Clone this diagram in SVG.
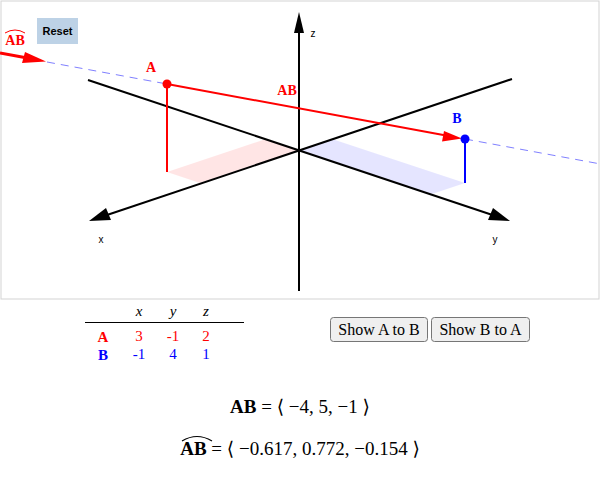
<svg xmlns="http://www.w3.org/2000/svg" width="600" height="481" viewBox="0 0 600 481">
<style>
.ser{font-family:"Liberation Serif","DejaVu Serif",serif}
.lbl{font-family:"Liberation Serif",serif;font-weight:bold;font-size:14px;text-anchor:middle}
.ax{stroke:#000;stroke-width:2;fill:none}
.axl{font-family:"Liberation Sans",Arial,sans-serif;font-size:10px;fill:#000;text-anchor:middle}
.btn{fill:#efefef;stroke:#767676;stroke-width:1}
.btt{font-family:"Liberation Serif",serif;font-size:16px;text-anchor:middle;fill:#000}
.tb{font-family:"Liberation Serif",serif;font-size:15px;text-anchor:middle}
.eq{font-family:"Liberation Serif","DejaVu Serif",serif;font-size:19px;text-anchor:middle;fill:#000}
</style>
<rect x="1" y="1" width="598" height="298" fill="#fff" stroke="#d3d3d3" stroke-width="1"/>
<g id="planes">
<polygon points="299,150 266,139 167,172 200,183" fill="#ff0000" fill-opacity="0.1"/>
<polygon points="299,150 332,139 465,183 432,194" fill="#0000ff" fill-opacity="0.1"/>
</g>
<g id="connectors">
<line class="ax" x1="299" y1="291" x2="299" y2="30"/>
<polygon points="299,12 294,33 304,33" fill="#000"/>
<line class="ax" x1="512" y1="79" x2="104" y2="216"/>
<polygon points="89,221 106,208 111,220" fill="#000"/>
<line class="ax" x1="88" y1="80" x2="494" y2="215.5"/>
<polygon points="510,221 493,208 488,220" fill="#000"/>
<line x1="47" y1="62" x2="167" y2="84" stroke="#8080ff" stroke-width="1" stroke-dasharray="8,6"/>
<line x1="465" y1="139" x2="599" y2="163.7" stroke="#8080ff" stroke-width="1" stroke-dasharray="8,6"/>
<line x1="167" y1="84" x2="167" y2="172" stroke="#ff0000" stroke-width="2"/>
<line x1="465" y1="139" x2="465" y2="183" stroke="#0000ff" stroke-width="2"/>
<line x1="167" y1="84" x2="446" y2="135.5" stroke="#ff0000" stroke-width="2"/>
<polygon points="462,138.5 444,131 442,141.5" fill="#ff0000"/>
<line x1="0" y1="53" x2="26" y2="57.8" stroke="#ff0000" stroke-width="3"/>
<polygon points="46,61.6 25,52 22,63" fill="#ff0000"/>
</g>
<g id="pointA"><circle cx="167" cy="84" r="4.5" fill="#ff0000"/><text class="lbl" x="151" y="72" fill="#ff0000">A</text></g>
<g id="pointB"><circle cx="465" cy="139" r="4.5" fill="#0000ff"/><text class="lbl" x="457" y="123" fill="#0000ff">B</text></g>
<g id="labelAB"><text class="lbl" x="287" y="95" fill="#ff0000">AB</text></g>
<g id="labelUnit"><text class="lbl" x="15" y="45" fill="#ff0000">AB</text><path d="M5,33 Q15,27 25,33" fill="none" stroke="#ff0000" stroke-width="1"/></g>
<g id="axisLabels"><text class="axl" x="101" y="243">x</text><text class="axl" x="495" y="243">y</text><text class="axl" x="313" y="37">z</text></g>
<g id="reset"><rect x="37" y="18" width="41" height="26" fill="#bdd2e6"/><text x="57.5" y="35" font-family="Liberation Sans,Arial,sans-serif" font-size="11" font-weight="bold" text-anchor="middle">Reset</text></g>
<g id="table">
<text class="tb" x="139" y="316" font-style="italic">x</text>
<text class="tb" x="173" y="316" font-style="italic">y</text>
<text class="tb" x="206" y="316" font-style="italic">z</text>
<line x1="85" y1="322.5" x2="244" y2="322.5" stroke="#000" stroke-width="1"/>
<text class="tb" x="103" y="342" fill="#ff0000" font-weight="bold" font-size="17">A</text>
<text class="tb" x="139" y="341" fill="#ff0000">3</text>
<text class="tb" x="173" y="341" fill="#ff0000">-1</text>
<text class="tb" x="206" y="341" fill="#ff0000">2</text>
<text class="tb" x="103" y="360" fill="#0000ff" font-weight="bold" font-size="17">B</text>
<text class="tb" x="139" y="359" fill="#0000ff">-1</text>
<text class="tb" x="173" y="359" fill="#0000ff">4</text>
<text class="tb" x="206" y="359" fill="#0000ff">1</text>
</g>
<g id="btnAB"><rect class="btn" x="330.5" y="317.5" width="97" height="24" rx="3"/><text class="btt" x="379" y="335">Show A to B</text></g>
<g id="btnBA"><rect class="btn" x="431.5" y="317.5" width="98" height="24" rx="3"/><text class="btt" x="480.5" y="335">Show B to A</text></g>
<g id="eq1"><text class="eq" x="300" y="413"><tspan font-weight="bold">AB</tspan> = ⟨ −4, 5, −1 ⟩</text></g>
<g id="eq2"><text class="eq" x="300" y="455"><tspan font-weight="bold">AB</tspan> = ⟨ −0.617, 0.772, −0.154 ⟩</text><path d="M182,441 Q197,432 212,441" fill="none" stroke="#000" stroke-width="1.2"/></g>
</svg>
